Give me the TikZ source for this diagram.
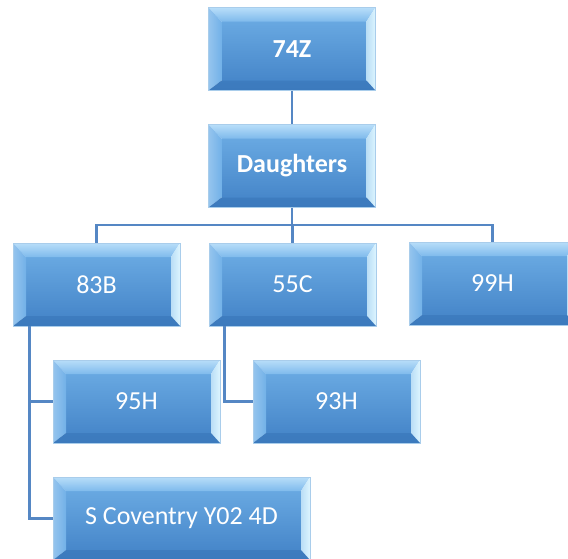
\documentclass[tikz,border=0pt]{standalone}
\usepackage{fontspec}
\setmainfont{Carlito}
\definecolor{facetop}{HTML}{68A8E1}
\definecolor{facebot}{HTML}{4787CA}
\definecolor{bvtopA}{HTML}{B8DEF9}
\definecolor{bvtopB}{HTML}{7FBAEC}
\definecolor{bvleft}{HTML}{72B1E8}
\definecolor{bvright}{HTML}{DDF5FF}
\definecolor{bvbot}{HTML}{3C7ABD}
\definecolor{bvline}{HTML}{A9CDEB}
\definecolor{conncol}{HTML}{5587C4}
\tikzset{
  bevelbox/.style={rectangle, minimum width=167pt, minimum height=83pt, inner sep=0pt,
    text=white, font=\fontsize{26}{30}\selectfont,
    path picture={
      \coordinate (nw) at (path picture bounding box.north west);
      \coordinate (ne) at (path picture bounding box.north east);
      \coordinate (sw) at (path picture bounding box.south west);
      \coordinate (se) at (path picture bounding box.south east);
      \coordinate (inw) at ([shift={(13pt,-14pt)}]nw);
      \coordinate (ine) at ([shift={(-9pt,-14pt)}]ne);
      \coordinate (isw) at ([shift={(13pt,10pt)}]sw);
      \coordinate (ise) at ([shift={(-9pt,10pt)}]se);
      \shade[top color=facetop, bottom color=facebot] (inw) rectangle (ise);
      \shade[top color=bvtopA, bottom color=bvtopB] (nw) -- (ne) -- (ine) -- (inw) -- cycle;
      \shade[left color=bvleft!75!white, right color=bvleft] (nw) -- (inw) -- (isw) -- (sw) -- cycle;
      \shade[left color=bvright!70!facetop, right color=bvright] (ne) -- (se) -- (ise) -- (ine) -- cycle;
      \shade[top color=bvbot!85!facebot, bottom color=bvbot] (sw) -- (isw) -- (ise) -- (se) -- cycle;
    },
    draw=bvline, line width=0.8pt},
  boldbox/.style={bevelbox, font=\fontsize{26}{30}\selectfont\bfseries},
  conn/.style={draw=conncol, line width=2.6pt}
}
\begin{document}
\begin{tikzpicture}[x=1pt,y=-1pt]
\useasboundingbox (0,0) rectangle (568,558);
\coordinate (bus) at (0,225);
\node[boldbox] (z74) at (292,49) {74Z};
\node[boldbox] (dau) at (292,166) {Daughters};
\node[bevelbox] (b83) at (96.5,284.5) {83B};
\node[bevelbox] (b55) at (292.5,284.5) {55C};
\node[bevelbox] (b99) at (492.5,283.5) {99H};
\node[bevelbox] (b95) at (136.5,401.5) {95H};
\node[bevelbox] (b93) at (336.5,401.5) {93H};
\node[bevelbox, minimum width=257pt] (sc) at (181.5,518.5) {S Coventry Y02 4D};
\draw[conn] (z74.south) -- (dau.north);
\draw[conn] (dau.south) -- (dau.south |- bus);
\draw[conn] (b83.north) |- (b99.north |- bus) -- (b99.north);
\draw[conn] (b55.north) -- (b55.north |- bus);
\draw[conn] ([xshift=17pt]b83.south west) |- (sc.west);
\draw[conn] ([xshift=17pt]b83.south west) |- (b95.west);
\draw[conn] ([xshift=16pt]b55.south west) |- (b93.west);
\end{tikzpicture}
\end{document}
